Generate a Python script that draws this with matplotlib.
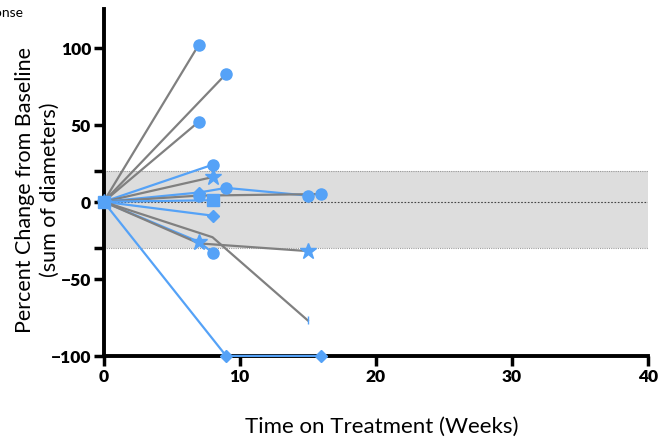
import matplotlib
matplotlib.use("Agg")
import matplotlib.pyplot as plt

# ---- data (weeks, % change) ----
s1_x = [0, 7];          s1_y = [0, 102]
s2_x = [0, 9];          s2_y = [0, 83]
s3_x = [0, 7];          s3_y = [0, 52]
s4_x = [0, 8];          s4_y = [0, 24]
s5_x = [0, 8];          s5_y = [0, 16]
s6_x = [0, 7, 9, 15];   s6_y = [0, 6, 9, 4]
s7_x = [0, 7, 16];      s7_y = [0, 4, 5]
s8_x = [0, 8];          s8_y = [0, 1]
s9_x = [0, 8];          s9_y = [0, -9]
s10_x = [0, 7, 8];      s10_y = [0, -26, -33]
s11_x = [0, 7, 15];     s11_y = [0, -27, -32]
s12_x = [0, 8, 15];     s12_y = [0, -23, -77]
s13_x = [0, 9, 16];     s13_y = [0, -100, -100]

BLUE = "#55A2F7"
GRAY = "#808080"

series = [
    (s1_x, s1_y, GRAY, ["o"]),
    (s2_x, s2_y, GRAY, ["o"]),
    (s3_x, s3_y, GRAY, ["o"]),
    (s4_x, s4_y, BLUE, ["o"]),
    (s5_x, s5_y, GRAY, ["*"]),
    (s6_x, s6_y, BLUE, ["D", "o", "o"]),
    (s7_x, s7_y, GRAY, ["o", "o"]),
    (s8_x, s8_y, BLUE, ["s"]),
    (s9_x, s9_y, BLUE, ["D"]),
    (s10_x, s10_y, BLUE, ["*", "o"]),
    (s11_x, s11_y, GRAY, ["", "*"]),
    (s12_x, s12_y, GRAY, ["", "|"]),
    (s13_x, s13_y, BLUE, ["D", "D"]),
]
SIZES = {"o": 8, "*": 12, "D": 6.5, "s": 8, "|": 6}

band_lo, band_hi = -30, 20

fig = plt.figure(figsize=(6.6, 4.39), dpi=100)
ax = fig.add_axes([0.157, 0.187, 0.825, 0.79])

ax.axhspan(band_lo, band_hi, facecolor="#DDDDDD", edgecolor="none", zorder=0)
ax.axhline(band_hi, color="#999999", lw=0.8, ls=(0, (1, 1)), zorder=0.5)
ax.axhline(band_lo, color="#999999", lw=0.8, ls=(0, (1, 1)), zorder=0.5)
ax.axhline(0, color="#444444", lw=0.8, ls=(0, (1.5, 1.5)), zorder=0.5)

for xs, ys, col, mks in series:
    ax.plot(xs, ys, color=col, lw=1.6, zorder=3, clip_on=False)
    for x, y, mk in zip(xs[1:], ys[1:], mks):
        if mk:
            ax.plot([x], [y], ls="none", marker=mk, color=BLUE, ms=SIZES[mk],
                    mec=BLUE, zorder=4, clip_on=False)
ax.plot([0], [0], ls="none", marker="s", color=BLUE, ms=8, zorder=4, clip_on=False)
ax.plot([0], [0], ls="none", marker="*", color=BLUE, ms=11, zorder=4, clip_on=False)

ax.set_xlim(0, 40)
ax.set_ylim(-100, 125)
ax.set_xticks([0, 10, 20, 30, 40])
ax.set_yticks([-100, -50, 0, 50, 100])
ax.set_yticks([band_lo, band_hi], minor=True)
ax.tick_params(axis="both", which="major", length=7, width=2.5, labelsize=12.5, direction="out", pad=2)
ax.tick_params(axis="y", which="minor", length=7, width=2.5)
for lab in ax.get_xticklabels() + ax.get_yticklabels():
    lab.set_fontweight("heavy")
    lab.set_fontfamily("Lato")

for side in ["top", "right"]:
    ax.spines[side].set_visible(False)
for side in ["left", "bottom"]:
    ax.spines[side].set_linewidth(2.8)

fig.text(382 / 660, 1 - 427 / 439, "Time on Treatment (Weeks)",
         ha="center", va="center", fontsize=16, fontfamily="Lato")

fig.text(37 / 660, 1 - 190 / 439, "Percent Change from Baseline\n(sum of diameters)",
         rotation=90, ha="center", va="center", multialignment="center",
         fontsize=15.5, fontfamily="Lato", linespacing=1.3)

fig.text(24 / 660, 1 - 13 / 439, "Response", ha="right", va="center", fontsize=10, fontfamily="Lato")

fig.savefig("out.png", dpi=100)
